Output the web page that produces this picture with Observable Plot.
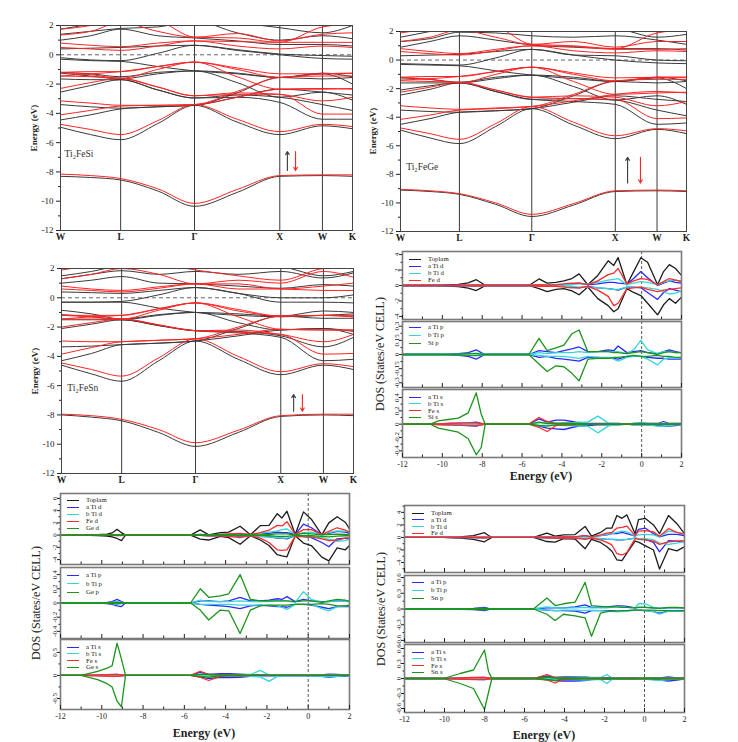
<!DOCTYPE html>
<html>
<head>
<meta charset="utf-8">
<script src="https://cdn.jsdelivr.net/npm/d3@7"></script>
<script src="https://cdn.jsdelivr.net/npm/@observablehq/plot@0.6"></script>
<style>
  html, body { margin: 0; padding: 0; background: #fff; }
  #fig { position: relative; width: 738px; height: 742px; overflow: hidden; background: #fff;
         font-family: "Liberation Serif", "DejaVu Serif", serif; color: #222; }
  #fig > svg, #fig > div { position: absolute; }
  .rot { transform: translate(-50%, -50%) rotate(-90deg); white-space: nowrap; }
  .ctr { transform: translate(-50%, -50%); white-space: nowrap; }
  .item { display: flex; align-items: center; white-space: nowrap; height: 6px; line-height: 6px; font-size: 6.8px; transform: translateY(-50%); }
  .item .sw { display: inline-block; width: 12px; border-top: 1.6px solid; margin-right: 7px; }
</style>
</head>
<body>
<div id="fig"></div>
<script>
// ---------------- Band structures ----------------
const kNames = ["W", "L", "Γ", "X", "W", "K"];
const kTicks = [0, 0.206, 0.459, 0.751, 0.897, 1];
// sampled k positions: W, mid W-L, L, mid L-Γ, Γ, mid Γ-X, X, W, K
const kSamples = [0, 0.103, 0.206, 0.333, 0.459, 0.605, 0.751, 0.897, 1];
const bandTicks = [-12, -10, -8, -6, -4, -2, 0, 2];
const bandMinor = [-11, -9, -7, -5, -3, -1, 1];

// Ti2FeSi
const siUp = [
  [-8.3, -8.38, -8.55, -9.3, -10.35, -9.4, -8.3, -8.25, -8.3],
  [-4.95, -5.45, -5.8, -4.7, -3.45, -4.6, -5.45, -4.85, -5.05],
  [-4.45, -4.1, -3.7, -3.55, -3.45, -2.9, -2.35, -2.55, -2.75],
  [-3.4, -3.55, -3.65, -3.55, -3.45, -2.6, -1.55, -1.65, -1.55],
  [-2.55, -2.1, -1.7, -2.4, -2.95, -2.9, -3.25, -4.4, -4.4],
  [-1.65, -1.7, -1.7, -2.4, -2.95, -2.75, -2.9, -3.4, -3.8],
  [-1.25, -1.45, -1.65, -1.3, -1.1, -1.9, -2.9, -2.55, -3.1],
  [-1.2, -1.3, -1.5, -1.2, -1.1, -1.25, -1.55, -1.3, -2.0],
  [-0.3, -0.4, -0.45, -0.8, -1.1, -1.3, -1.55, -1.25, -1.5],
  [-0.2, -0.35, -0.4, 0.1, 0.65, 0.3, 0.0, -0.25, -0.3],
  [0.4, 0.45, 0.5, 0.6, 0.65, 0.35, 0.05, -0.05, -0.1],
  [1.0, 1.3, 1.75, 1.3, 1.15, 0.95, 0.7, 0.7, 0.6],
  [1.4, 1.6, 1.8, 1.9, 2.3, 1.5, 1.0, 1.3, 1.1],
  [1.75, 2.1, 2.5, 2.5, 2.5, 2.2, 1.85, 1.5, 2.0]
];
const siDown = [
  [-8.15, -8.25, -8.45, -9.15, -10.15, -9.2, -8.25, -8.2, -8.2],
  [-4.75, -5.1, -5.45, -4.5, -3.4, -4.4, -5.25, -4.75, -4.9],
  [-4.1, -3.8, -3.5, -3.45, -3.4, -2.9, -2.35, -2.3, -2.35],
  [-3.15, -3.3, -3.45, -3.45, -3.4, -2.5, -1.55, -1.45, -1.45],
  [-2.3, -1.9, -1.6, -2.2, -2.8, -2.7, -2.7, -4.05, -4.05],
  [-1.45, -1.5, -1.6, -2.2, -2.8, -2.6, -2.7, -3.15, -2.9],
  [-1.2, -1.15, -1.15, -0.8, -0.5, -1.5, -2.35, -2.35, -2.3],
  [-1.2, -1.35, -1.6, -1.0, -0.5, -0.9, -1.3, -1.3, -1.27],
  [-1.45, -1.3, -1.15, -0.8, -0.5, -1.0, -1.55, -1.3, -1.25],
  [0.5, 0.4, 0.3, 0.6, 0.95, 0.6, 0.4, 0.6, 0.5],
  [0.8, 0.65, 0.55, 0.8, 0.95, 0.9, 0.85, 0.85, 0.85],
  [1.35, 1.6, 2.2, 1.6, 1.2, 1.45, 0.95, 1.4, 1.5],
  [1.75, 2.0, 2.5, 2.3, 1.2, 1.15, 0.85, 1.9, 2.1],
  [2.0, 2.3, 2.6, 2.5, 2.4, 2.2, 2.0, 2.1, 2.3]
];

// Ti2FeGe
const geUp = [
  [-9.1, -9.2, -9.4, -10.1, -10.95, -10.15, -9.2, -9.15, -9.2],
  [-4.9, -5.45, -5.85, -4.65, -3.4, -4.55, -5.5, -4.85, -5.15],
  [-4.5, -4.1, -3.65, -3.55, -3.4, -2.95, -2.5, -2.75, -2.9],
  [-3.5, -3.6, -3.65, -3.55, -3.4, -2.5, -1.5, -1.6, -1.5],
  [-2.45, -2.05, -1.6, -2.2, -2.75, -2.9, -3.1, -4.5, -4.4],
  [-2.1, -1.8, -1.6, -2.2, -2.75, -2.7, -2.8, -3.5, -3.9],
  [-1.6, -1.6, -1.6, -1.3, -1.05, -1.85, -2.8, -2.5, -3.1],
  [-1.25, -1.35, -1.55, -1.2, -1.05, -1.2, -1.5, -1.25, -2.0],
  [-0.3, -0.35, -0.4, -0.75, -1.05, -1.3, -1.5, -1.2, -1.45],
  [-0.25, -0.3, -0.35, 0.15, 0.75, 0.35, 0.0, -0.2, -0.25],
  [0.3, 0.35, 0.4, 0.6, 0.75, 0.35, 0.3, 0.0, -0.05],
  [0.9, 1.3, 1.7, 1.4, 1.05, 0.9, 0.8, 0.8, 0.7],
  [1.3, 1.5, 1.95, 1.9, 1.7, 1.6, 1.7, 1.4, 1.1],
  [1.6, 2.0, 2.4, 2.4, 2.5, 2.3, 2.2, 1.6, 1.8]
];
const geDown = [
  [-9.05, -9.15, -9.35, -10.0, -10.8, -10.05, -9.15, -9.1, -9.15],
  [-4.75, -5.15, -5.55, -4.45, -3.25, -4.35, -5.3, -4.8, -4.95],
  [-4.15, -3.85, -3.5, -3.4, -3.25, -2.85, -2.4, -2.2, -2.3],
  [-3.2, -3.35, -3.45, -3.35, -3.25, -2.4, -1.45, -1.35, -1.35],
  [-2.25, -1.9, -1.55, -2.1, -2.6, -2.7, -2.75, -4.1, -4.05],
  [-1.45, -1.5, -1.55, -2.1, -2.6, -2.5, -2.6, -3.2, -2.9],
  [-1.2, -1.15, -1.15, -0.8, -0.5, -1.5, -2.4, -2.3, -2.25],
  [-1.2, -1.35, -1.6, -1.0, -0.5, -0.9, -1.25, -1.2, -1.2],
  [-1.4, -1.3, -1.15, -0.8, -0.5, -1.0, -1.45, -1.2, -1.2],
  [0.6, 0.45, 0.35, 0.65, 1.0, 0.65, 0.5, 0.65, 0.6],
  [0.8, 0.6, 0.45, 0.75, 1.0, 0.95, 0.75, 0.75, 0.8],
  [1.3, 1.6, 2.1, 1.6, 1.1, 1.3, 0.9, 1.3, 1.3],
  [1.9, 2.2, 2.5, 2.3, 1.1, 1.0, 0.8, 1.9, 2.1],
  [2.0, 2.3, 2.6, 2.5, 2.4, 2.2, 2.0, 2.1, 2.3]
];

// Ti2FeSn
const snUp = [
  [-8.0, -8.15, -8.4, -9.2, -10.15, -9.2, -8.1, -8.0, -8.05],
  [-4.6, -5.2, -5.7, -4.3, -2.95, -4.2, -5.25, -4.6, -4.9],
  [-4.3, -3.8, -3.2, -3.1, -2.95, -2.6, -2.2, -2.1, -2.5],
  [-3.35, -3.3, -3.2, -3.1, -2.95, -2.1, -1.25, -1.4, -1.4],
  [-2.1, -1.8, -1.5, -1.9, -2.25, -2.4, -2.7, -4.3, -4.2],
  [-1.5, -1.5, -1.5, -1.9, -2.25, -2.3, -2.6, -3.35, -2.7],
  [-1.15, -1.3, -1.5, -1.2, -1.0, -1.7, -2.2, -2.1, -2.3],
  [-0.85, -1.1, -1.45, -1.15, -1.0, -1.1, -1.25, -0.9, -1.0],
  [-0.3, -0.3, -0.3, -0.7, -1.0, -1.2, -1.3, -1.2, -1.1],
  [-0.3, -0.3, -0.25, 0.2, 0.7, 0.3, -0.3, -0.3, -0.35],
  [0.4, 0.35, 0.3, 0.5, 0.7, 0.3, 0.0, 0.0, 0.2],
  [1.0, 1.2, 1.45, 1.0, 0.95, 0.8, 0.65, 0.9, 0.8],
  [1.3, 1.6, 1.85, 1.6, 1.8, 1.6, 1.8, 1.35, 1.7],
  [1.5, 1.8, 2.2, 2.3, 2.4, 2.2, 2.1, 1.5, 1.8]
];
const snDown = [
  [-7.95, -8.05, -8.3, -9.0, -9.9, -9.05, -8.05, -7.95, -7.95],
  [-4.45, -4.9, -5.35, -4.1, -2.8, -4.0, -5.05, -4.5, -4.7],
  [-3.85, -3.4, -3.0, -2.9, -2.8, -2.5, -2.15, -2.2, -2.2],
  [-2.95, -3.0, -3.0, -2.9, -2.8, -2.0, -1.25, -1.2, -1.3],
  [-2.0, -1.7, -1.45, -1.85, -2.25, -2.35, -2.5, -3.85, -3.8],
  [-1.45, -1.45, -1.45, -1.85, -2.25, -2.2, -2.5, -3.0, -2.5],
  [-1.2, -1.2, -1.2, -0.75, -0.35, -1.3, -2.15, -2.2, -2.2],
  [-1.2, -1.3, -1.45, -0.85, -0.35, -0.8, -1.25, -1.2, -1.3],
  [-1.45, -1.3, -1.2, -0.75, -0.35, -0.9, -1.25, -1.2, -1.2],
  [0.6, 0.5, 0.4, 0.65, 0.95, 0.6, 0.6, 0.5, 0.5],
  [0.8, 0.6, 0.5, 0.75, 0.95, 0.95, 0.6, 0.8, 1.0],
  [1.3, 1.6, 2.0, 1.6, 0.95, 1.2, 1.0, 1.8, 1.4],
  [1.9, 2.2, 2.5, 2.3, 1.9, 1.5, 1.2, 2.0, 2.1],
  [2.0, 2.2, 2.6, 2.5, 2.4, 2.3, 2.2, 2.3, 2.4]
];

// spin arrows (x along path, energies) and compound labels
const siArrowX = [0.777, 0.805], siArrowFrom = [-7.9, -6.6], siArrowTo = [-6.6, -7.9];
const geArrowX = [0.794, 0.839], geArrowFrom = [-8.6, -6.8], geArrowTo = [-6.8, -8.6];
const snArrowX = [0.795, 0.825], snArrowFrom = [-7.75, -6.6], snArrowTo = [-6.6, -7.75];
const siLabel = ["Ti₂FeSi", 0.014, -6.75];
const geLabel = ["Ti₂FeGe", 0.02, -7.45];
const snLabel = ["Ti₂FeSn", 0.02, -6.15];

// ---------------- Densities of states ----------------
// Ti2FeSi
const eSi = [-12, -10.6, -10.2, -9.7, -9.2, -8.7, -8.3, -8.05, -7.85, -5.66, -5.15, -4.74, -4.3, -3.9, -3.5, -3.14, -2.7, -2.2, -1.68, -1.4, -1.18, -0.74, -0.4, -0.04, 0.3, 0.8, 1.1, 1.39, 1.7, 2.0];
const siTotUp = [0, 0, 0.03, 0.08, 0.15, 0.35, 0.75, 0.35, 0, 0, 0.85, 0.3, 0.4, 0.6, 0.9, 1.5, 0.1, 1.3, 3.2, 2.6, 3.6, 0.1, 1.8, 3.6, 3.0, 0.1, 1.8, 2.7, 2.2, 1.3];
const siTotDn = [0, 0, -0.03, -0.08, -0.15, -0.35, -0.65, -0.3, 0, 0, -0.4, -0.8, -0.5, -0.4, -0.7, -1.2, -0.2, -1.7, -2.6, -3.4, -3.0, -0.4, -0.9, -1.3, -2.3, -3.8, -2.5, -1.7, -2.3, -1.5];
const siTiaDUp = [0, 0, 0.01, 0.02, 0.03, 0.05, 0.08, 0.04, 0, 0, 0.1, 0.1, 0.1, 0.1, 0.2, 0.3, 0.1, 0.2, 0.4, 0.4, 0.3, 0.2, 0.9, 1.8, 1.0, 0.0, 0.3, 0.6, 0.4, 0.3];
const siTiaDDn = [0, 0, -0.01, -0.02, -0.03, -0.05, -0.08, -0.04, 0, 0, -0.05, -0.1, -0.1, -0.1, -0.2, -0.3, -0.1, -0.3, -0.4, -0.5, -0.6, -0.2, -0.2, -0.3, -0.9, -1.8, -0.9, -0.4, -0.6, -0.8];
const siTibDUp = [0, 0, 0.01, 0.01, 0.02, 0.03, 0.05, 0.02, 0, 0, 0.1, 0.1, 0.1, 0.1, 0.1, 0.2, 0.2, 0.4, 0.7, 0.8, 0.9, 0.1, 0.3, 0.5, 0.4, 0.1, 0.4, 0.6, 0.7, 0.6];
const siTibDDn = [0, 0, -0.01, -0.01, -0.02, -0.03, -0.05, -0.02, 0, 0, -0.05, -0.1, -0.1, -0.1, -0.1, -0.2, -0.2, -0.3, -0.4, -0.5, -0.5, -0.2, -0.2, -0.2, -0.3, -0.5, -0.8, -1.1, -1.0, -0.7];
const siFeDUp = [0, 0, 0.01, 0.02, 0.04, 0.06, 0.08, 0.03, 0, 0, 0.1, 0.05, 0.1, 0.2, 0.3, 0.3, 0.1, 0.6, 1.4, 1.6, 2.2, 0.2, 0.6, 0.9, 0.8, 0.1, 0.5, 0.9, 0.7, 0.5];
const siFeDDn = [0, 0, -0.01, -0.02, -0.04, -0.06, -0.08, -0.03, 0, 0, -0.1, -0.1, -0.1, -0.2, -0.3, -0.3, -0.1, -0.6, -1.4, -2.6, -2.3, -0.4, -0.3, -0.2, -0.5, -0.8, -0.6, -0.5, -0.4, -0.3];
const siTiaPUp = [0, 0, 0, 0.005, 0.01, 0.02, 0.05, 0.02, 0, 0, 0.04, 0.03, 0.02, 0.04, 0.06, 0.08, 0.03, 0.03, 0.05, 0.04, 0.09, 0.02, 0.03, 0.04, 0.02, 0.01, 0.03, 0.05, 0.03, 0.02];
const siTiaPDn = [0, 0, 0, -0.005, -0.01, -0.02, -0.05, -0.02, 0, 0, -0.03, -0.02, -0.04, -0.05, -0.06, -0.07, -0.03, -0.03, -0.04, -0.04, -0.05, -0.02, -0.02, -0.02, -0.03, -0.04, -0.04, -0.05, -0.05, -0.05];
const siTibPUp = [0, 0, 0, 0, 0.005, 0.01, 0.015, 0.01, 0, 0, 0.02, 0.01, 0.02, 0.02, 0.02, 0.03, 0.02, 0.03, 0.03, 0.03, 0.03, 0.01, 0.05, 0.15, 0.05, 0.01, 0.03, 0.03, 0.02, 0.02];
const siTibPDn = [0, 0, 0, 0, -0.005, -0.01, -0.015, -0.01, 0, 0, -0.01, -0.02, -0.02, -0.02, -0.03, -0.04, -0.02, -0.03, -0.03, -0.05, -0.07, -0.03, -0.02, -0.02, -0.05, -0.11, -0.05, -0.03, -0.04, -0.03];
const siSiPUp = [0, 0, 0, 0, 0.005, 0.01, 0.01, 0.005, 0, 0, 0.17, 0.04, 0.07, 0.1, 0.22, 0.26, 0.03, 0.03, 0.03, 0.02, 0.02, 0.01, 0.02, 0.03, 0.02, 0.0, 0.02, 0.03, 0.02, 0.02];
const siSiPDn = [0, 0, 0, 0, -0.005, -0.01, -0.01, -0.005, 0, 0, -0.1, -0.18, -0.12, -0.13, -0.2, -0.28, -0.05, -0.04, -0.04, -0.03, -0.03, -0.02, -0.01, -0.02, -0.02, -0.01, -0.02, -0.02, -0.03, -0.03];
const siTiaSUp = [0, 0, 0.005, 0.01, 0.015, 0.02, 0.03, 0.01, 0, 0, 0.08, 0.03, 0.06, 0.06, 0.04, 0.02, 0.01, 0.01, 0.01, 0.01, 0.01, 0.0, 0.01, 0.02, 0.01, 0.01, 0.04, 0.01, 0.01, 0.01];
const siTiaSDn = [0, 0, -0.005, -0.01, -0.015, -0.02, -0.03, -0.01, 0, 0, -0.03, -0.06, -0.07, -0.08, -0.05, -0.03, -0.02, -0.01, -0.01, -0.01, -0.01, 0, -0.01, -0.01, -0.01, -0.02, -0.03, -0.03, -0.02, -0.01];
const siTibSUp = [0, 0, 0, 0.005, 0.005, 0.01, 0.01, 0.005, 0, 0, 0.02, 0.02, 0.01, 0.02, 0.02, 0.03, 0.03, 0.12, 0.02, 0.01, 0.01, 0.0, 0.01, 0.02, 0.01, 0.01, 0.01, 0.01, 0.01, 0.01];
const siTibSDn = [0, 0, 0, -0.005, -0.005, -0.01, -0.01, -0.005, 0, 0, -0.02, -0.02, -0.01, -0.02, -0.02, -0.03, -0.03, -0.13, -0.03, -0.01, -0.01, 0, -0.01, -0.01, -0.01, -0.03, -0.03, -0.02, -0.01, -0.01];
const siFeSUp = [0, 0, 0.005, 0.01, 0.015, 0.02, 0.02, 0.01, 0, 0, 0.1, 0.04, 0.01, 0.01, 0.01, 0, 0, 0, 0, 0, 0, 0, 0, 0, 0, 0, 0, 0, 0, 0];
const siFeSDn = [0, 0, -0.005, -0.01, -0.015, -0.02, -0.02, -0.01, 0, 0, -0.05, -0.11, -0.02, -0.01, -0.01, 0, 0, 0, 0, 0, 0, 0, 0, 0, 0, 0, 0, 0, 0, 0];
const siSiSUp = [0, 0, 0.05, 0.07, 0.09, 0.17, 0.47, 0.15, 0, 0, 0.03, 0.01, 0.01, 0.01, 0.01, 0.01, 0, 0, 0, 0, 0, 0, 0, 0.01, 0, 0, 0, 0, 0, 0.01];
const siSiSDn = [0, 0, -0.06, -0.09, -0.12, -0.22, -0.46, -0.35, 0, 0, -0.02, -0.03, -0.01, -0.01, -0.01, -0.01, 0, 0, 0, 0, 0, 0, 0, 0, 0, 0, 0, 0, 0, 0];

// Ti2FeGe
const eGe = [-12, -11.0, -10.2, -9.74, -9.5, -9.26, -9.05, -8.85, -5.7, -5.23, -4.82, -4.26, -3.85, -3.3, -2.8, -2.32, -1.9, -1.5, -1.27, -1.03, -0.63, -0.23, 0.15, 0.66, 1.0, 1.4, 1.8, 2.0];
const geTotUp = [0, 0, 0.07, 0.15, 0.35, 0.95, 0.4, 0, 0, 0.85, 0.05, 0.4, 0.5, 1.45, 0.05, 1.55, 1.6, 3.5, 2.8, 3.9, 0.1, 3.8, 2.6, 0.05, 2.0, 3.0, 2.1, 1.0];
const geTotDn = [0, 0, -0.07, -0.15, -0.3, -0.55, -0.9, 0, 0, -0.65, -0.8, -0.2, -0.4, -1.5, -0.1, -0.8, -1.7, -3.2, -3.4, -3.55, -0.1, -1.3, -1.7, -3.6, -4.2, -2.1, -2.4, -1.7];
const geTiaDUp = [0, 0, 0.01, 0.02, 0.03, 0.06, 0.03, 0, 0, 0.1, 0.05, 0.1, 0.1, 0.2, 0.05, 0.3, 0.3, 0.5, 0.4, 0.4, 0.1, 1.8, 1.2, 0.1, 0.3, 0.6, 0.5, 0.3];
const geTiaDDn = [0, 0, -0.01, -0.02, -0.03, -0.05, -0.05, 0, 0, -0.05, -0.1, -0.1, -0.1, -0.2, -0.05, -0.2, -0.3, -0.5, -0.5, -0.6, -0.1, -0.2, -0.4, -1.2, -1.9, -0.6, -0.5, -0.7];
const geTibDUp = [0, 0, 0.01, 0.01, 0.02, 0.04, 0.02, 0, 0, 0.05, 0.05, 0.05, 0.1, 0.1, 0.05, 0.3, 0.5, 0.7, 0.9, 1.0, 0.1, 0.4, 0.5, 0.1, 0.4, 0.7, 0.6, 0.6];
const geTibDDn = [0, 0, -0.01, -0.01, -0.02, -0.04, -0.03, 0, 0, -0.05, -0.05, -0.05, -0.1, -0.1, -0.05, -0.2, -0.3, -0.4, -0.5, -0.5, -0.1, -0.2, -0.3, -0.4, -0.7, -1.0, -0.9, -0.6];
const geFeDUp = [0, 0, 0.01, 0.02, 0.04, 0.08, 0.04, 0, 0, 0.05, 0.05, 0.1, 0.2, 0.3, 0.1, 0.4, 0.8, 1.6, 1.5, 2.2, 0.1, 0.9, 0.9, 0.1, 0.6, 1.2, 0.8, 0.5];
const geFeDDn = [0, 0, -0.01, -0.02, -0.04, -0.08, -0.06, 0, 0, -0.05, -0.1, -0.1, -0.2, -0.4, -0.1, -0.5, -1.2, -2.4, -2.5, -2.4, -0.2, -0.3, -0.3, -0.6, -0.9, -0.8, -0.5, -0.4];
const geGeDUp = [0, 0, 0, 0.01, 0.01, 0.02, 0.01, 0, 0, 0.02, 0.02, 0.03, 0.04, 0.05, 0.02, 0.05, 0.1, 0.2, 0.2, 0.2, 0.05, 0.3, 0.2, 0.05, 0.1, 0.15, 0.1, 0.1];
const geGeDDn = [0, 0, 0, -0.01, -0.01, -0.02, -0.01, 0, 0, -0.02, -0.02, -0.03, -0.04, -0.05, -0.02, -0.05, -0.1, -0.2, -0.2, -0.2, -0.05, -0.1, -0.1, -0.2, -0.3, -0.15, -0.1, -0.1];
const geTiaPUp = [0, 0, 0, 0.01, 0.02, 0.05, 0.02, 0, 0, 0.03, 0.03, 0.02, 0.03, 0.08, 0.03, 0.03, 0.04, 0.06, 0.05, 0.09, 0.02, 0.05, 0.03, 0.02, 0.02, 0.03, 0.03, 0.02];
const geTiaPDn = [0, 0, 0, -0.01, -0.02, -0.04, -0.05, 0, 0, -0.02, -0.03, -0.04, -0.05, -0.08, -0.04, -0.03, -0.04, -0.05, -0.05, -0.06, -0.02, -0.02, -0.03, -0.06, -0.08, -0.05, -0.05, -0.05];
const geTibPUp = [0, 0, 0, 0, 0.01, 0.02, 0.01, 0, 0, 0.04, 0.02, 0.02, 0.02, 0.03, 0.02, 0.02, 0.02, 0.03, 0.03, 0.03, 0.01, 0.16, 0.05, 0.01, 0.02, 0.03, 0.03, 0.02];
const geTibPDn = [0, 0, 0, 0, -0.01, -0.02, -0.01, 0, 0, -0.02, -0.02, -0.02, -0.02, -0.03, -0.03, -0.03, -0.03, -0.04, -0.06, -0.09, -0.02, -0.02, -0.02, -0.08, -0.11, -0.05, -0.04, -0.04];
const geGePUp = [0, 0, 0, 0, 0.005, 0.01, 0.005, 0, 0, 0.2, 0.08, 0.1, 0.13, 0.4, 0.05, 0.03, 0.03, 0.03, 0.03, 0.03, 0.02, 0.03, 0.03, 0.01, 0.03, 0.05, 0.04, 0.02];
const geGePDn = [0, 0, 0, 0, -0.005, -0.01, -0.005, 0, 0, -0.1, -0.24, -0.1, -0.11, -0.43, -0.1, -0.04, -0.03, -0.03, -0.03, -0.03, -0.02, -0.02, -0.02, -0.01, -0.02, -0.04, -0.04, -0.03];
const geTiaSUp = [0, 0, 0.005, 0.01, 0.015, 0.02, 0.01, 0, 0, 0.07, 0.02, 0.04, 0.04, 0.03, 0.01, 0.01, 0.01, 0.01, 0.01, 0.01, 0.01, 0.01, 0.01, 0.01, 0.03, 0.02, 0.01, 0.01];
const geTiaSDn = [0, 0, -0.005, -0.01, -0.015, -0.02, -0.01, 0, 0, -0.03, -0.07, -0.04, -0.05, -0.04, -0.02, -0.01, -0.01, -0.01, -0.01, -0.01, -0.01, -0.01, -0.01, -0.02, -0.04, -0.02, -0.02, -0.01];
const geTibSUp = [0, 0, 0, 0.005, 0.005, 0.01, 0.005, 0, 0, 0.01, 0.01, 0.01, 0.01, 0.02, 0.02, 0.11, 0.01, 0.01, 0.01, 0.01, 0, 0.01, 0.01, 0.01, 0.01, 0.01, 0.01, 0.01];
const geTibSDn = [0, 0, 0, -0.005, -0.005, -0.01, -0.005, 0, 0, -0.01, -0.01, -0.01, -0.01, -0.01, -0.02, -0.03, -0.13, -0.02, -0.01, -0.01, 0, -0.01, -0.01, -0.02, -0.03, -0.02, -0.01, -0.01];
const geFeSUp = [0, 0, 0.01, 0.015, 0.02, 0.02, 0.01, 0, 0, 0.09, 0.02, 0.01, 0.01, 0.01, 0, 0, 0, 0, 0, 0, 0, 0, 0, 0, 0, 0, 0, 0];
const geFeSDn = [0, 0, -0.01, -0.015, -0.02, -0.02, -0.01, 0, 0, -0.04, -0.11, -0.02, -0.01, -0.01, 0, 0, 0, 0, 0, 0, 0, 0, 0, 0, 0, 0, 0, 0];
const geGeSUp = [0, 0, 0.09, 0.16, 0.21, 0.7, 0.36, 0, 0, 0.03, 0.02, 0.01, 0.01, 0.01, 0, 0, 0, 0, 0, 0, 0, 0, 0, 0, 0, 0, 0, 0.01];
const geGeSDn = [0, 0, -0.09, -0.18, -0.25, -0.56, -0.68, 0, 0, -0.02, -0.04, -0.01, -0.01, -0.01, 0, 0, 0, 0, 0, 0, 0, 0, 0, 0, 0, 0, 0, 0];

// Ti2FeSn
const eSn = [-12, -10.05, -9.22, -8.55, -8.0, -7.8, -7.63, -5.55, -4.88, -4.47, -4.05, -3.47, -2.97, -2.65, -2.2, -1.88, -1.63, -1.38, -1.13, -0.88, -0.47, -0.3, 0.03, 0.45, 0.75, 1.2, 1.62, 2.0];
const snTotUp = [0, 0, 0.1, 0.3, 0.75, 0.3, 0, 0, 0.7, 0.2, 0.4, 0.45, 1.75, 0.2, 0.8, 1.5, 1.5, 3.5, 3.05, 3.6, 0.6, 2.85, 3.05, 2.0, 0.6, 3.5, 2.2, 0.6];
const snTotDn = [0, 0, -0.1, -0.3, -0.7, -0.3, 0, 0, -0.65, -0.75, -0.2, -0.25, -1.8, -0.3, -0.8, -1.5, -2.2, -3.6, -3.7, -2.5, -0.6, -0.75, -1.3, -2.0, -5.05, -1.8, -2.15, -1.5];
const snTiaDUp = [0, 0, 0.01, 0.02, 0.05, 0.02, 0, 0, 0.1, 0.05, 0.1, 0.1, 0.3, 0.1, 0.3, 0.4, 0.6, 0.6, 0.8, 0.6, 0.2, 1.3, 1.5, 0.6, 0.1, 0.5, 0.5, 0.3];
const snTiaDDn = [0, 0, -0.01, -0.02, -0.05, -0.02, 0, 0, -0.05, -0.1, -0.05, -0.1, -0.2, -0.1, -0.2, -0.3, -0.3, -0.4, -0.4, -0.3, -0.1, -0.2, -0.3, -0.8, -2.3, -0.5, -0.6, -0.7];
const snTibDUp = [0, 0, 0.01, 0.01, 0.03, 0.01, 0, 0, 0.05, 0.05, 0.05, 0.1, 0.1, 0.05, 0.3, 0.5, 0.6, 0.8, 1.0, 0.9, 0.2, 0.4, 0.5, 0.4, 0.1, 1.0, 0.8, 0.6];
const snTibDDn = [0, 0, -0.01, -0.01, -0.03, -0.01, 0, 0, -0.05, -0.05, -0.05, -0.1, -0.1, -0.05, -0.2, -0.3, -0.3, -0.3, -0.4, -0.3, -0.1, -0.2, -0.2, -0.4, -0.9, -1.1, -0.9, -0.6];
const snFeDUp = [0, 0, 0.01, 0.03, 0.06, 0.03, 0, 0, 0.05, 0.05, 0.1, 0.1, 0.3, 0.1, 0.4, 0.7, 0.8, 1.5, 1.6, 1.8, 0.3, 1.0, 1.1, 0.9, 0.2, 1.4, 0.8, 0.5];
const snFeDDn = [0, 0, -0.01, -0.03, -0.06, -0.03, 0, 0, -0.05, -0.1, -0.05, -0.1, -0.3, -0.1, -0.4, -0.8, -1.2, -2.6, -2.8, -2.4, -0.2, -0.3, -0.4, -0.6, -1.1, -0.7, -0.6, -0.5];
const snTiaPUp = [0, 0, 0.005, 0.01, 0.03, 0.01, 0, 0, 0.02, 0.02, 0.02, 0.04, 0.08, 0.03, 0.03, 0.04, 0.05, 0.06, 0.06, 0.05, 0.02, 0.03, 0.03, 0.02, 0.01, 0.02, 0.02, 0.02];
const snTiaPDn = [0, 0, -0.005, -0.01, -0.03, -0.01, 0, 0, -0.02, -0.03, -0.03, -0.04, -0.08, -0.03, -0.03, -0.03, -0.03, -0.04, -0.04, -0.03, -0.02, -0.02, -0.03, -0.05, -0.08, -0.04, -0.04, -0.04];
const snTibPUp = [0, 0, 0, 0.005, 0.01, 0.005, 0, 0, 0.04, 0.02, 0.02, 0.02, 0.03, 0.02, 0.02, 0.02, 0.03, 0.04, 0.04, 0.03, 0.02, 0.1, 0.1, 0.03, 0.01, 0.02, 0.02, 0.02];
const snTibPDn = [0, 0, 0, -0.005, -0.01, -0.005, 0, 0, -0.02, -0.03, -0.02, -0.02, -0.03, -0.02, -0.03, -0.04, -0.05, -0.05, -0.05, -0.04, -0.02, -0.02, -0.03, -0.05, -0.1, -0.04, -0.04, -0.04];
const snSnPUp = [0, 0, 0, 0.005, 0.01, 0.005, 0, 0, 0.21, 0.065, 0.1, 0.13, 0.51, 0.065, 0.05, 0.04, 0.04, 0.04, 0.03, 0.03, 0.02, 0.03, 0.03, 0.02, 0.01, 0.03, 0.03, 0.02];
const snSnPDn = [0, 0, 0, -0.005, -0.01, -0.005, 0, 0, -0.1, -0.22, -0.1, -0.13, -0.17, -0.52, -0.08, -0.05, -0.04, -0.04, -0.03, -0.03, -0.02, -0.02, -0.02, -0.02, -0.03, -0.03, -0.03, -0.03];
const snTiaSUp = [0, 0, 0.01, 0.015, 0.02, 0.01, 0, 0, 0.05, 0.02, 0.03, 0.03, 0.03, 0.01, 0.01, 0.01, 0.01, 0.01, 0.01, 0.01, 0.01, 0, 0.01, 0.01, 0.01, 0.03, 0.01, 0.01];
const snTiaSDn = [0, 0, -0.01, -0.015, -0.02, -0.01, 0, 0, -0.02, -0.04, -0.05, -0.05, -0.04, -0.02, -0.01, -0.01, -0.01, -0.01, -0.01, -0.01, -0.01, 0, -0.01, -0.01, -0.03, -0.05, -0.03, -0.01];
const snTibSUp = [0, 0, 0, 0.005, 0.01, 0.005, 0, 0, 0.01, 0.01, 0.01, 0.02, 0.03, 0.02, 0.02, 0.08, 0.01, 0.01, 0.01, 0.01, 0, 0.01, 0.01, 0.01, 0.01, 0.01, 0.01, 0.01];
const snTibSDn = [0, 0, 0, -0.005, -0.01, -0.005, 0, 0, -0.01, -0.01, -0.01, -0.02, -0.03, -0.02, -0.02, -0.1, -0.02, -0.01, -0.01, -0.01, 0, -0.01, -0.01, -0.03, -0.04, -0.02, -0.01, -0.01];
const snFeSUp = [0, 0, 0.01, 0.02, 0.02, 0.01, 0, 0, 0.08, 0.02, 0.01, 0, 0, 0, 0, 0, 0, 0, 0, 0, 0, 0, 0, 0, 0, 0, 0, 0];
const snFeSDn = [0, 0, -0.01, -0.02, -0.02, -0.01, 0, 0, -0.03, -0.09, -0.02, 0, 0, 0, 0, 0, 0, 0, 0, 0, 0, 0, 0, 0, 0, 0, 0, 0];
const snSnSUp = [0, 0, 0.1, 0.17, 0.57, 0.14, 0, 0, 0.03, 0.01, 0.01, 0.01, 0, 0, 0, 0, 0, 0, 0, 0, 0, 0, 0, 0, 0, 0, 0, 0];
const snSnSDn = [0, 0, -0.1, -0.2, -0.62, -0.28, 0, 0, -0.02, -0.04, -0.01, -0.01, 0, 0, 0, 0, 0, 0, 0, 0, 0, 0, 0, 0, 0, 0, 0, 0];

// y axis ranges and ticks of each DOS strip
const siDom = [[-4.4, 4.4], [-0.35, 0.35], [-0.5, 0.52]];
const siTicks = [[-4, -2, 0, 2, 4], [-0.3, -0.15, 0, 0.15, 0.3], [-0.4, -0.2, 0, 0.2, 0.4]];
const siMinor = [[-3, -1, 1, 3], [-0.225, -0.075, 0.075, 0.225], [-0.3, -0.1, 0.1, 0.3]];
const geDom = [[-4.8, 6.8], [-0.5, 0.5], [-0.74, 0.78]];
const geTicks = [[-4, -2, 0, 2, 4, 6], [-0.4, -0.2, 0, 0.2, 0.4], [-0.5, 0, 0.5]];
const geMinor = [[-3, -1, 1, 3, 5], [-0.3, -0.1, 0.1, 0.3], [-0.25, 0.25]];
const snDom = [[-5.6, 5.1], [-0.64, 0.64], [-0.68, 0.68]];
const snTicks = [[-4, -2, 0, 2, 4], [-0.6, -0.3, 0, 0.3, 0.6], [-0.6, -0.3, 0, 0.3, 0.6]];
const snMinor = [[-5, -3, -1, 1, 3, 5], [-0.45, -0.15, 0.15, 0.45], [-0.45, -0.15, 0.15, 0.45]];
const energyTicks = [-12, -10, -8, -6, -4, -2, 0, 2];
const energyMinor = [-11, -9, -7, -5, -3, -1, 1];

// ---------------- drawing ----------------
const fig = document.getElementById("fig");
const serif = '"Liberation Serif", "DejaVu Serif", serif';
const spinUp = "#3a3a3a", spinDown = "#ff2424";
const col = {tot: "#1c1c1c", tia: "#2a2aff", tib: "#33d6d6", fe: "#ff2a2a", x: "#1a951a"};

function put(el, left, top) {
  el.style.left = left + "px";
  el.style.top = top + "px";
  fig.appendChild(el);
  return el;
}
function textDiv(text, x, y, cls, css) {
  const d = document.createElement("div");
  d.className = cls;
  d.textContent = text;
  Object.assign(d.style, css);
  return put(d, x, y);
}
function legend(names, colors, x, y, dy) {
  names.forEach((n, i) => {
    const it = document.createElement("div");
    it.className = "item";
    const sw = document.createElement("span");
    sw.className = "sw";
    sw.style.borderColor = colors[i];
    it.appendChild(sw);
    it.appendChild(document.createTextNode(n));
    put(it, x, y + i * dy);
  });
}

function bandChart(o) {
  const toRows = (bands, tag) => bands.flatMap((b, i) => b.map((e, j) => ({k: kSamples[j], e, id: tag + i})));
  const arrows = o.arrowX.map((x, i) => ({x, y1: o.arrowFrom[i], y2: o.arrowTo[i]}));
  const svg = Plot.plot({
    width: o.ml + o.pw + o.mr, height: o.mt + o.ph + o.mb,
    marginLeft: o.ml, marginRight: o.mr, marginTop: o.mt, marginBottom: o.mb,
    style: {background: "none", overflow: "visible", fontFamily: serif, fontSize: "9px", color: "#222"},
    x: {domain: [0, 1], label: null},
    y: {domain: [-12, 2], label: null},
    marks: [
      Plot.ruleX(kTicks.slice(1, -1), {stroke: "#3a3a3a", strokeWidth: 1}),
      Plot.ruleY([0], {stroke: "#555", strokeDasharray: "4,3", strokeWidth: 0.9}),
      Plot.line(toRows(o.up, "u"), {x: "k", y: "e", z: "id", stroke: spinUp, strokeWidth: 1, curve: "monotone-x", clip: true}),
      Plot.line(toRows(o.down, "d"), {x: "k", y: "e", z: "id", stroke: spinDown, strokeWidth: 1, curve: "monotone-x", clip: true}),
      Plot.arrow([arrows[0]], {x1: "x", x2: "x", y1: "y1", y2: "y2", stroke: spinUp, strokeWidth: 1.1, headLength: 5}),
      Plot.arrow([arrows[1]], {x1: "x", x2: "x", y1: "y1", y2: "y2", stroke: spinDown, strokeWidth: 1.1, headLength: 5}),
      Plot.text([o.label], {x: d => d[1], y: d => d[2], text: d => d[0], textAnchor: "start", fontSize: 9.5, fill: "#333"}),
      Plot.frame({stroke: "#444", strokeWidth: 1}),
      Plot.axisY({ticks: bandTicks, tickSize: 4, tickPadding: 3, tickFormat: d => String(d), label: null}),
      Plot.axisY({ticks: bandMinor, tickSize: 2, tickFormat: () => "", label: null}),
      Plot.axisX({ticks: kTicks, tickSize: 0, tickPadding: 3, tickFormat: d => kNames[kTicks.indexOf(d)], label: null, fontWeight: "bold", fontSize: 9.5})
    ]
  });
  put(svg, o.left - o.ml, o.top - o.mt);
  textDiv("Energy (eV)", o.ylabX, o.top + o.ph / 2, "rot", {fontSize: "9px", fontWeight: "bold"});
}

function dosChart(o) {
  const ml = 24, mr = 4, mt = 3, mb = o.xLabels ? 28 : 2;
  const marks = [Plot.ruleX([0], {stroke: "#444", strokeDasharray: "3,2", strokeWidth: 0.9})];
  o.series.forEach(s => {
    for (const vals of [s[2], s[3]]) {
      const rows = vals.map((v, j) => ({e: o.E[j], v}));
      marks.push(Plot.line(rows, {x: "e", y: "v", stroke: s[1], strokeWidth: 1.3, clip: true}));
    }
  });
  marks.push(
    Plot.frame({stroke: "#7a7a7a", strokeWidth: 1.6}),
    Plot.axisY({ticks: o.ticks, tickSize: 3, tickPadding: 1, tickFormat: d => String(d), tickRotate: -90, label: null, fontSize: 7}),
    Plot.axisY({ticks: o.minor, tickSize: 1.5, tickFormat: () => "", label: null}),
    Plot.axisX({ticks: energyTicks, tickSize: -4, tickFormat: () => "", label: null}),
    Plot.axisX({ticks: energyMinor, tickSize: -2.5, tickFormat: () => "", label: null})
  );
  if (o.xLabels) marks.push(Plot.axisX({ticks: energyTicks, tickSize: 0, tickPadding: 4, tickFormat: d => String(d), label: null, fontSize: 8}));
  const svg = Plot.plot({
    width: ml + o.pw + mr, height: mt + o.ph + mb,
    marginLeft: ml, marginRight: mr, marginTop: mt, marginBottom: mb,
    style: {background: "none", overflow: "visible", fontFamily: serif, fontSize: "7.5px", color: "#222"},
    x: {domain: [-12, 2], label: null},
    y: {domain: o.domain, label: null},
    marks
  });
  put(svg, o.left - ml, o.top - mt);
  legend(o.series.map(s => s[0]), o.series.map(s => s[1]), o.legX, o.legY, o.legDy);
}

// band structure panels
bandChart({up: siUp, down: siDown, label: siLabel, arrowX: siArrowX, arrowFrom: siArrowFrom, arrowTo: siArrowTo,
  left: 60, top: 25, pw: 292, ph: 205, ml: 40, mr: 14, mt: 12, mb: 22, ylabX: 34});
bandChart({up: geUp, down: geDown, label: geLabel, arrowX: geArrowX, arrowFrom: geArrowFrom, arrowTo: geArrowTo,
  left: 400, top: 31, pw: 286, ph: 200, ml: 40, mr: 14, mt: 12, mb: 22, ylabX: 373});
bandChart({up: snUp, down: snDown, label: snLabel, arrowX: snArrowX, arrowFrom: snArrowFrom, arrowTo: snArrowTo,
  left: 61, top: 268, pw: 292, ph: 205, ml: 40, mr: 14, mt: 12, mb: 22, ylabX: 35});

// DOS panel: Ti2FeSi
dosChart({E: eSi, domain: siDom[0], ticks: siTicks[0], minor: siMinor[0], left: 402, top: 251, pw: 279, ph: 68,
  series: [["Toplam", col.tot, siTotUp, siTotDn], ["a Ti d", col.tia, siTiaDUp, siTiaDDn], ["b Ti d", col.tib, siTibDUp, siTibDDn], ["Fe d", col.fe, siFeDUp, siFeDDn]],
  legX: 409, legY: 259, legDy: 7});
dosChart({E: eSi, domain: siDom[1], ticks: siTicks[1], minor: siMinor[1], left: 402, top: 321, pw: 279, ph: 66,
  series: [["a Ti p", col.tia, siTiaPUp, siTiaPDn], ["b Ti p", col.tib, siTibPUp, siTibPDn], ["Si p", col.x, siSiPUp, siSiPDn]],
  legX: 409, legY: 327, legDy: 8});
dosChart({E: eSi, domain: siDom[2], ticks: siTicks[2], minor: siMinor[2], left: 402, top: 389, pw: 279, ph: 68, xLabels: true,
  series: [["a Ti s", col.tia, siTiaSUp, siTiaSDn], ["b Ti s", col.tib, siTibSUp, siTibSDn], ["Fe s", col.fe, siFeSUp, siFeSDn], ["Si s", col.x, siSiSUp, siSiSDn]],
  legX: 409, legY: 397, legDy: 6.8});
textDiv("DOS (States/eV CELL)", 380, 354, "rot", {fontSize: "12px"});
textDiv("Energy (eV)", 541, 476, "ctr", {fontSize: "12px", fontWeight: "bold"});

// DOS panel: Ti2FeGe
dosChart({E: eGe, domain: geDom[0], ticks: geTicks[0], minor: geMinor[0], left: 60, top: 493, pw: 289, ph: 71,
  series: [["Toplam", col.tot, geTotUp, geTotDn], ["a Ti d", col.tia, geTiaDUp, geTiaDDn], ["b Ti d", col.tib, geTibDUp, geTibDDn], ["Fe d", col.fe, geFeDUp, geFeDDn], ["Ge d", col.x, geGeDUp, geGeDDn]],
  legX: 67, legY: 500, legDy: 7});
dosChart({E: eGe, domain: geDom[1], ticks: geTicks[1], minor: geMinor[1], left: 60, top: 567, pw: 289, ph: 71,
  series: [["a Ti p", col.tia, geTiaPUp, geTiaPDn], ["b Ti p", col.tib, geTibPUp, geTibPDn], ["Ge p", col.x, geGePUp, geGePDn]],
  legX: 67, legY: 575, legDy: 8.5});
dosChart({E: eGe, domain: geDom[2], ticks: geTicks[2], minor: geMinor[2], left: 60, top: 639, pw: 289, ph: 70, xLabels: true,
  series: [["a Ti s", col.tia, geTiaSUp, geTiaSDn], ["b Ti s", col.tib, geTibSUp, geTibSDn], ["Fe s", col.fe, geFeSUp, geFeSDn], ["Ge s", col.x, geGeSUp, geGeSDn]],
  legX: 67, legY: 647, legDy: 6.8});
textDiv("DOS (States/eV CELL)", 36, 603, "rot", {fontSize: "12px"});
textDiv("Energy (eV)", 204, 733, "ctr", {fontSize: "12px", fontWeight: "bold"});

// DOS panel: Ti2FeSn
dosChart({E: eSn, domain: snDom[0], ticks: snTicks[0], minor: snMinor[0], left: 404, top: 505, pw: 280, ph: 67,
  series: [["Toplam", col.tot, snTotUp, snTotDn], ["a Ti d", col.tia, snTiaDUp, snTiaDDn], ["b Ti d", col.tib, snTibDUp, snTibDDn], ["Fe d", col.fe, snFeDUp, snFeDDn]],
  legX: 412, legY: 513, legDy: 6.8});
dosChart({E: eSn, domain: snDom[1], ticks: snTicks[1], minor: snMinor[1], left: 404, top: 575, pw: 280, ph: 67,
  series: [["a Ti p", col.tia, snTiaPUp, snTiaPDn], ["b Ti p", col.tib, snTibPUp, snTibPDn], ["Sn p", col.x, snSnPUp, snSnPDn]],
  legX: 412, legY: 582, legDy: 8});
dosChart({E: eSn, domain: snDom[2], ticks: snTicks[2], minor: snMinor[2], left: 404, top: 644, pw: 280, ph: 68, xLabels: true,
  series: [["a Ti s", col.tia, snTiaSUp, snTiaSDn], ["b Ti s", col.tib, snTibSUp, snTibSDn], ["Fe s", col.fe, snFeSUp, snFeSDn], ["Sn s", col.x, snSnSUp, snSnSDn]],
  legX: 412, legY: 652, legDy: 6.8});
textDiv("DOS (States/eV CELL)", 381, 609, "rot", {fontSize: "12px"});
textDiv("Energy (eV)", 544, 735, "ctr", {fontSize: "12px", fontWeight: "bold"});
</script>
</body>
</html>
